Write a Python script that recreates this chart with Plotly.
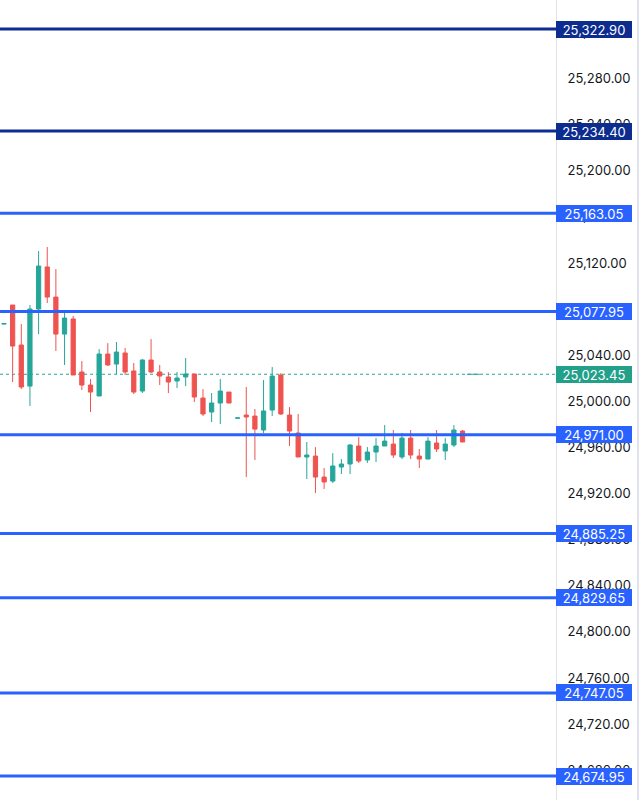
import plotly.graph_objects as go

# ---- data -------------------------------------------------------------
candle_index = list(range(54))
opens = [25067.0, 25083.5, 25048.8, 25013.2, 25080.0, 25116.5, 25090.4, 25058.3, 25071.4, 25025.4,
         25014.1, 25004.6, 25041.0, 25032.3, 25041.9, 25026.3, 25008.9, 25035.8, 25025.4, 25021.1,
         25017.6, 25021.1, 25023.7, 25002.8, 24990.7, 24998.5, 25008.0, 24985.4, 24988.1, 24987.2,
         24975.1, 24992.4, 25022.8, 24988.1, 24972.5, 24951.7, 24952.5, 24934.3, 24930.8, 24943.0,
         24945.6, 24961.2, 24949.1, 24956.0, 24961.2, 24962.9, 24951.7, 24968.1, 24952.5, 24949.9,
         24963.8, 24956.9, 24962.1, 24974.2]
highs = [25067.6, 25083.5, 25067.0, 25083.5, 25130.3, 25133.8, 25114.7, 25077.4, 25074.0, 25034.9,
         25019.3, 25045.3, 25050.5, 25051.4, 25046.2, 25033.2, 25036.7, 25054.0, 25031.5, 25025.4,
         25025.4, 25037.5, 25023.7, 25010.6, 25007.2, 25019.3, 25008.0, 24985.7, 25012.4, 24993.3,
         25018.5, 25029.7, 25024.5, 24995.0, 24989.0, 24964.7, 24960.3, 24942.1, 24955.1, 24949.9,
         24962.9, 24969.0, 24960.3, 24968.1, 24979.4, 24975.1, 24972.5, 24975.1, 24958.6, 24969.0,
         24975.1, 24968.1, 24979.4, 24975.1]
lows = [25066.8, 25016.7, 25010.6, 24995.9, 25058.3, 25085.2, 25043.6, 25031.5, 25022.8, 25009.8,
        24990.7, 25004.6, 25030.6, 25023.7, 25022.8, 25006.3, 25007.2, 25024.5, 25014.1, 25007.2,
        25011.5, 25013.2, 24999.4, 24987.2, 24982.0, 24980.3, 24998.5, 24985.3, 24934.3, 24949.1,
        24972.5, 24987.2, 24988.1, 24961.2, 24951.7, 24932.6, 24920.4, 24923.9, 24929.1, 24936.9,
        24936.9, 24946.5, 24946.5, 24947.3, 24961.2, 24950.8, 24949.9, 24949.9, 24942.1, 24949.9,
        24956.0, 24949.1, 24960.3, 24964.7]
closes = [25067.4, 25047.9, 25012.4, 25080.0, 25117.3, 25090.4, 25058.3, 25072.2, 25022.8, 25014.1,
          25008.0, 25041.0, 25031.5, 25042.7, 25025.4, 25008.0, 25035.8, 25025.4, 25021.9, 25016.7,
          25020.2, 25023.7, 25003.7, 24989.0, 24998.5, 25008.9, 24998.5, 24985.6, 24986.4, 24975.9,
          24991.6, 25021.9, 24989.0, 24974.2, 24951.7, 24953.4, 24934.3, 24930.0, 24943.9, 24945.6,
          24962.1, 24948.2, 24956.0, 24961.2, 24965.5, 24953.4, 24968.1, 24953.4, 24949.9, 24965.5,
          24958.6, 24962.9, 24975.1, 24964.7]

dark_levels = [25322.90, 25234.40]
blue_levels = [25163.05, 25077.95, 24971.00, 24885.25, 24829.65, 24747.05, 24674.95]
last_price = 25023.45
last_candle_marker = [53.5, 55.0]

y_range = [24654.2, 25348.05]
x_range = [-0.46, 63.8]

# ---- styles -----------------------------------------------------------
GREEN = "#26a69a"
LABEL_GREEN = "#22a08a"
RED = "#ef5350"
NAVY = "#0c2c8f"
BLUE = "#2962ff"
FONT = "Inter"

fig = go.Figure()
fig.add_trace(go.Candlestick(
    x=candle_index, open=opens, high=highs, low=lows, close=closes,
    increasing=dict(line=dict(color=GREEN, width=1), fillcolor=GREEN),
    decreasing=dict(line=dict(color=RED, width=1), fillcolor=RED),
    whiskerwidth=0, hoverinfo="skip", showlegend=False,
))

shapes = []
annotations = []


def level(v, color):
    shapes.append(dict(type="line", xref="paper", x0=0, x1=1, yref="y", y0=v, y1=v,
                       line=dict(color=color, width=3), layer="above"))
    annotations.append(dict(xref="paper", x=1, xanchor="left", yref="y", y=v, yanchor="middle",
                            text=f"{v:,.2f}", showarrow=False, bgcolor=color, width=76, height=17,
                            borderpad=0, borderwidth=0, align="center",
                            font=dict(family=FONT, size=13, color="white")))


for v in dark_levels:
    level(v, NAVY)
for v in blue_levels:
    level(v, BLUE)

# last price dotted line and label
shapes.append(dict(type="line", xref="paper", x0=0, x1=1, yref="y", y0=last_price, y1=last_price,
                   line=dict(color=GREEN, width=1, dash="dot"), layer="below"))
shapes.append(dict(type="line", xref="x", x0=last_candle_marker[0], x1=last_candle_marker[1],
                   yref="y", y0=last_price, y1=last_price, line=dict(color=GREEN, width=1)))
annotations.append(dict(xref="paper", x=1, xanchor="left", yref="y", y=last_price, yanchor="middle",
                        text=f"{last_price:,.2f}", showarrow=False, bgcolor=LABEL_GREEN, width=76, height=17,
                        borderpad=0, borderwidth=0, align="center",
                        font=dict(family=FONT, size=13, color="white")))
# right window edge
shapes.append(dict(type="line", xref="paper", x0=1.1475, x1=1.1475, yref="paper", y0=0, y1=1,
                   line=dict(color="#e0e3eb", width=2)))

fig.update_layout(
    width=641, height=800,
    margin=dict(l=0, r=85, t=0, b=0),
    paper_bgcolor="white", plot_bgcolor="white",
    boxgap=0.3,
    shapes=shapes, annotations=annotations,
    xaxis=dict(range=x_range, visible=False, rangeslider=dict(visible=False), fixedrange=True),
    yaxis=dict(range=y_range, side="right", dtick=40, tick0=0, tickformat=",.2f",
               showgrid=False, zeroline=False, showline=True, linecolor="#e0e3eb", linewidth=1,
               ticks="", ticklabelstandoff=8, fixedrange=True,
               tickfont=dict(family=FONT, size=13, color="#131722")),
    showlegend=False,
)

fig.write_html("out.html", config={"displayModeBar": False},
               post_script="document.body.style.margin='0';document.body.style.overflow='hidden';")
